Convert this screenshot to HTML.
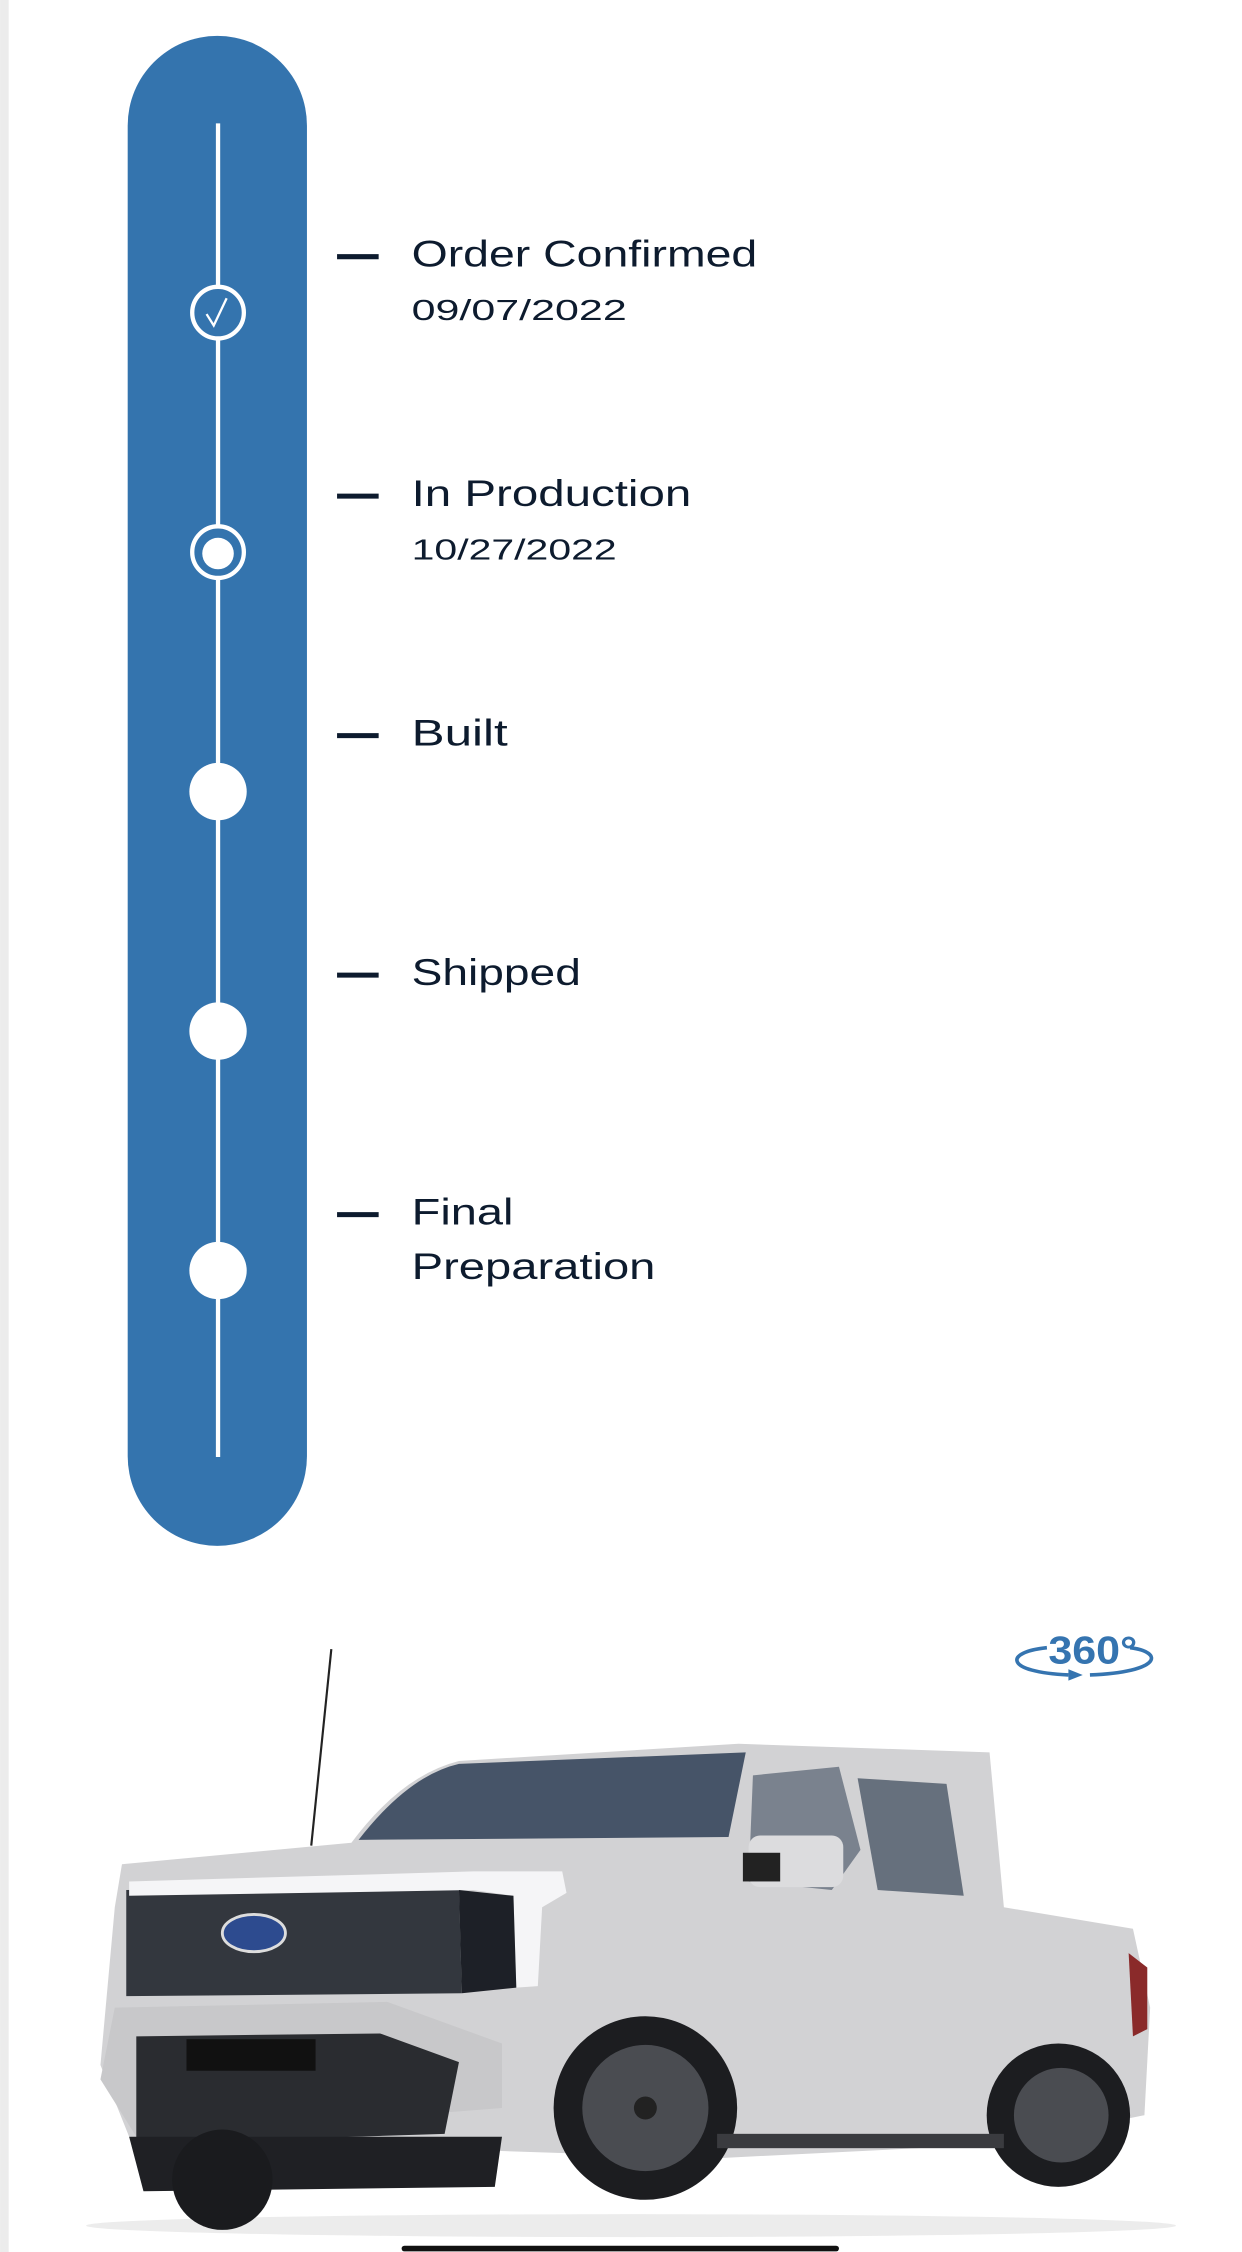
<!DOCTYPE html>
<html><head><meta charset="utf-8"><style>
html,body{margin:0;padding:0;background:#fff;width:1242px;height:2252px;overflow:hidden}
svg{display:block}
text{font-family:"Liberation Sans",sans-serif;fill:#0d1b2e}
</style></head><body>
<svg width="1242" height="2252" viewBox="0 0 866 1570.4" xmlns="http://www.w3.org/2000/svg">
<rect x="0" y="0" width="6" height="1571" fill="#ececec"/>
<rect x="89" y="25" width="125" height="1053" rx="62.5" fill="#3474ae"/>
<line x1="152" y1="86" x2="152" y2="1016" stroke="#fff" stroke-width="3"/>
<circle cx="152" cy="218" r="18" fill="#3474ae" stroke="#fff" stroke-width="3"/>
<path d="M144 219 L149 227 L158 208" fill="none" stroke="#fff" stroke-width="1.6"/>
<circle cx="152" cy="385" r="18" fill="#3474ae" stroke="#fff" stroke-width="3"/>
<circle cx="152" cy="386" r="11" fill="#fff"/>
<circle cx="152" cy="552" r="20" fill="#fff"/>
<circle cx="152" cy="719" r="20" fill="#fff"/>
<circle cx="152" cy="886" r="20" fill="#fff"/>
<g stroke="#0d1b2e" stroke-width="3.5">
<line x1="235" y1="179" x2="264" y2="179"/>
<line x1="235" y1="346" x2="264" y2="346"/>
<line x1="235" y1="513" x2="264" y2="513"/>
<line x1="235" y1="680" x2="264" y2="680"/>
<line x1="235" y1="847" x2="264" y2="847"/>
</g>
<g font-size="26">
<text x="287" y="186" textLength="241" lengthAdjust="spacingAndGlyphs">Order Confirmed</text>
<text x="287" y="353" textLength="195" lengthAdjust="spacingAndGlyphs">In Production</text>
<text x="287" y="520" textLength="67" lengthAdjust="spacingAndGlyphs">Built</text>
<text x="287" y="687" textLength="118" lengthAdjust="spacingAndGlyphs">Shipped</text>
<text x="287" y="854" textLength="71" lengthAdjust="spacingAndGlyphs">Final</text>
<text x="287" y="892" textLength="170" lengthAdjust="spacingAndGlyphs">Preparation</text>
</g>
<g font-size="20">
<text x="287" y="223" textLength="150" lengthAdjust="spacingAndGlyphs">09/07/2022</text>
<text x="287" y="390" textLength="143" lengthAdjust="spacingAndGlyphs">10/27/2022</text>
</g>
<!-- 360 icon -->
<text x="731" y="1160" font-size="27" font-weight="bold" style="fill:#3574b0" textLength="62" lengthAdjust="spacingAndGlyphs">360°</text>
<path d="M730 1149 C700 1152 700 1166 745 1168" fill="none" stroke="#3574b0" stroke-width="2.5"/>
<path d="M745 1164 L755 1168 L745 1172 Z" fill="#3574b0"/>
<path d="M760 1168 C810 1166 812 1152 788 1149" fill="none" stroke="#3574b0" stroke-width="2.5"/>
<!-- truck -->
<line x1="231" y1="1150" x2="217" y2="1287" stroke="#222" stroke-width="1.5"/>
<ellipse cx="440" cy="1552" rx="380" ry="8" fill="#ececec"/>
<path d="M85 1300 L245 1285 Q280 1238 320 1228 L515 1216 L690 1222 L700 1330 L790 1345 L802 1400 L798 1475 L700 1495 L500 1505 L350 1500 L90 1490 L70 1440 L80 1330 Z" fill="#d2d2d4"/>
<path d="M250 1283 Q285 1238 320 1230 L520 1222 L508 1281 Z" fill="#465468"/>
<path d="M525 1238 L585 1232 L600 1290 L580 1318 L522 1312 Z" fill="#7a828e"/>
<path d="M598 1240 L660 1244 L672 1322 L612 1318 Z" fill="#66707d"/>
<rect x="522" y="1280" width="66" height="36" rx="8" fill="#dcdcde"/>
<rect x="518" y="1292" width="26" height="20" fill="#222"/>
<path d="M88 1318 L320 1315 L322 1390 L88 1392 Z" fill="#33373e"/>
<path d="M90 1312 L330 1305 L392 1305 L395 1320 L378 1330 L375 1385 L360 1386 L358 1322 L330 1318 L90 1322 Z" fill="#f5f5f7"/>
<path d="M320 1318 L358 1322 L360 1386 L322 1390 Z" fill="#1d2027"/>
<ellipse cx="177" cy="1348" rx="22" ry="13" fill="#2d4b8f" stroke="#ddd" stroke-width="2"/>
<path d="M80 1400 L270 1396 L350 1425 L350 1470 L95 1490 L70 1450 Z" fill="#c8c8ca"/>
<path d="M95 1420 L265 1418 L320 1438 L310 1488 L95 1495 Z" fill="#2a2c30"/>
<rect x="130" y="1422" width="90" height="22" fill="#111"/>
<path d="M90 1490 L350 1490 L345 1525 L100 1528 Z" fill="#1f2024"/>
<circle cx="155" cy="1520" r="35" fill="#1a1b1e"/>
<circle cx="450" cy="1470" r="64" fill="#1c1d20"/>
<circle cx="450" cy="1470" r="44" fill="#4a4c51"/>
<circle cx="450" cy="1470" r="8" fill="#222"/>
<circle cx="738" cy="1475" r="50" fill="#1c1d20"/>
<circle cx="740" cy="1475" r="33" fill="#4a4c51"/>
<rect x="500" y="1488" width="200" height="10" fill="#3a3b3f"/>
<path d="M787 1362 L800 1372 L800 1415 L790 1420 Z" fill="#8a2a2a"/>
<rect x="280" y="1566" width="305" height="4" rx="2" fill="#111"/>
</svg>
</body></html>
